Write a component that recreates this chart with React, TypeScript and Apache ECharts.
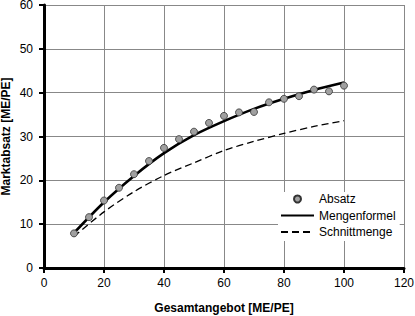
import React, { useEffect, useRef } from "react";
import * as echarts from "echarts";

const absatzX = [10, 15, 20, 25, 30, 35, 40, 45, 50, 55, 60, 65, 70, 75, 80, 85, 90, 95, 100];
const absatzY = [7.9, 11.6, 15.4, 18.3, 21.4, 24.4, 27.4, 29.4, 31.1, 33.1, 34.7, 35.5, 35.6, 37.8, 38.6, 39.2, 40.7, 40.3, 41.6];

const curveX = [10, 20, 30, 40, 50, 60, 70, 80, 90, 100];
const mengenformelY = [8, 15, 21, 26.2, 30.3, 33.5, 36.3, 38.6, 40.6, 42.3];
const schnittmengeY = [7.2, 12.8, 17.4, 21.1, 24.0, 26.8, 28.9, 30.7, 32.3, 33.6];

const xTitle = "Gesamtangebot [ME/PE]";
const yTitle = "Marktabsatz [ME/PE]";
const seriesNames = ["Absatz", "Mengenformel", "Schnittmenge"];

const FONT = "'Liberation Sans', Arial, sans-serif";

export default function App() {
  const ref = useRef<HTMLDivElement>(null);
  useEffect(() => {
    if (!ref.current) return;
    const chart = echarts.init(ref.current, undefined, { renderer: "svg" });
    const axisCommon = {
      axisLine: { show: true, lineStyle: { color: "#000", width: 3 } },
      axisTick: { show: true, length: 5, lineStyle: { color: "#000", width: 2 } },
      splitLine: { show: true, lineStyle: { color: "#888", width: 1 } },
      nameMoveOverlap: false,
      nameTextStyle: { fontFamily: FONT, fontSize: 12, fontWeight: "bold" as const, color: "#000" },
    };
    chart.setOption({
      animation: false,
      backgroundColor: "#fff",
      grid: { left: 44, top: 5, right: 11, bottom: 48, containLabel: false, outerBoundsMode: "none" },
      xAxis: {
        type: "value",
        min: 0,
        max: 120,
        interval: 20,
        name: xTitle,
        nameLocation: "middle",
        nameGap: 34,
        axisLabel: { fontFamily: FONT, fontSize: 12, color: "#000", margin: 9 },
        ...axisCommon,
      },
      yAxis: {
        type: "value",
        min: 0,
        max: 60,
        interval: 10,
        name: yTitle,
        nameLocation: "middle",
        nameGap: 32,
        axisLabel: { fontFamily: FONT, fontSize: 12, color: "#000", margin: 11, padding: [2, 0, 0, 0] },
        ...axisCommon,
      },
      legend: {
        orient: "vertical",
        left: 278,
        top: 192,
        padding: [0, 4, 2, 2],
        itemWidth: 33,
        itemHeight: 7,
        itemGap: 2.5,
        backgroundColor: "#fff",
        textStyle: { fontFamily: FONT, fontSize: 12, color: "#000", lineHeight: 14 },
        data: [
          { name: seriesNames[0] },
          { name: seriesNames[1], itemStyle: { opacity: 0 } },
          { name: seriesNames[2], itemStyle: { opacity: 0 } },
        ],
      },
      series: [
        {
          name: seriesNames[1],
          type: "line",
          data: curveX.map((x, i) => [x, mengenformelY[i]]),
          smooth: 0.3,
          symbol: "none",
          lineStyle: { color: "#000", width: 2.6 },
          itemStyle: { color: "#000" },
          z: 2,
        },
        {
          name: seriesNames[2],
          type: "line",
          data: curveX.map((x, i) => [x, schnittmengeY[i]]),
          smooth: 0.3,
          symbol: "none",
          lineStyle: { color: "#000", width: 1.3, type: [7, 4] },
          itemStyle: { color: "#000" },
          z: 2,
        },
        {
          name: seriesNames[0],
          type: "scatter",
          data: absatzX.map((x, i) => [x, absatzY[i]]),
          symbol: "circle",
          symbolSize: 7,
          itemStyle: { color: "#a0a0a0", borderColor: "#333", borderWidth: 0.8, opacity: 1 },
          z: 3,
        },
      ],
    });
    return () => chart.dispose();
  }, []);
  return <div ref={ref} style={{ width: 415, height: 316, position: "absolute", left: 0, top: 0 }} />;
}
